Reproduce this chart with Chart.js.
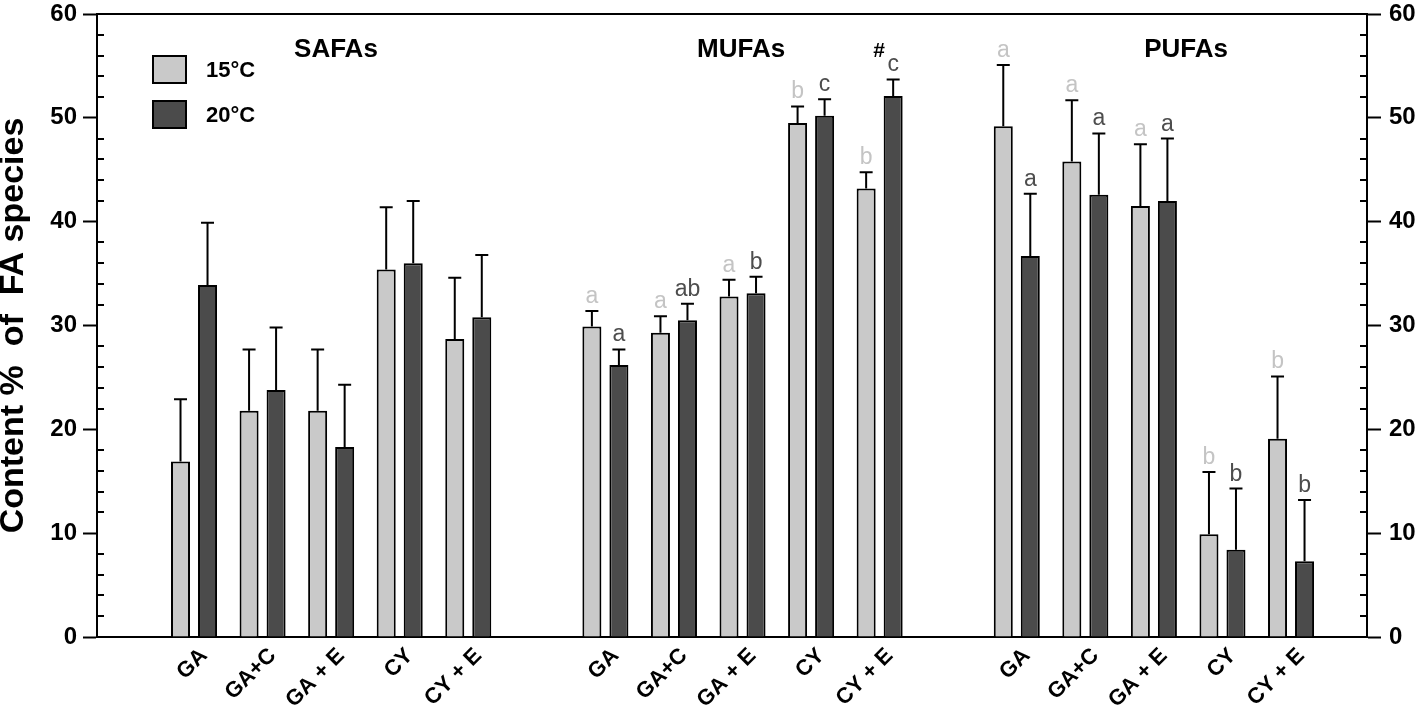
<!DOCTYPE html>
<html>
<head>
<meta charset="utf-8">
<script src="https://cdn.jsdelivr.net/npm/chart.js@4.4.1/dist/chart.umd.min.js"></script>
<style>
  html, body { margin: 0; padding: 0; background: #fff; }
  #wrap { width: 1418px; height: 707px; position: relative; }
</style>
</head>
<body>
<div id="wrap"><canvas id="faChart"></canvas></div>
<script>
const groups = ['SAFAs', 'MUFAs', 'PUFAs'];
const treatments = ['GA', 'GA+C', 'GA + E', 'CY', 'CY + E'];
const seriesNames = ['15°C', '20°C'];

// means and SD, order: SAFAs x5, MUFAs x5, PUFAs x5
const mean15 = [16.9, 21.8, 21.8, 35.4, 28.7, 29.9, 29.3, 32.8, 49.5, 43.2, 49.2, 45.8, 41.5, 9.9, 19.1];
const sd15 = [6.0, 5.9, 5.9, 6.0, 5.9, 1.5, 1.6, 1.6, 1.6, 1.55, 5.9, 5.9, 5.95, 6.0, 6.0];
const mean20 = [33.9, 23.8, 18.3, 36.0, 30.8, 26.2, 30.5, 33.1, 50.2, 52.1, 36.7, 42.6, 42.0, 8.4, 7.3];
const sd20 = [6.0, 6.0, 6.0, 6.0, 6.0, 1.5, 1.6, 1.6, 1.6, 1.6, 6.0, 5.9, 6.0, 5.9, 5.9];

const letters15 = ['', '', '', '', '', 'a', 'a', 'a', 'b', 'b', 'a', 'a', 'a', 'b', 'b'];
const letters20 = ['', '', '', '', '', 'a', 'ab', 'b', 'c', 'c', 'a', 'a', 'a', 'b', 'b'];
const marks20 = ['', '', '', '', '', '', '', '', '', '#', '', '', '', '', ''];

const yMax = 60;
const yStep = 10;
const yMinorStep = 2;

const FONT = "'Liberation Sans', Arial, sans-serif";

// one empty slot between the groups
const positions = [];
const xLabels = [];
groups.forEach((g, gi) => {
  treatments.forEach((t, ti) => {
    positions.push(gi * (treatments.length + 1) + ti);
    xLabels.push(t);
  });
});
const toPoints = (vals) => vals.map((v, i) => ({ x: positions[i], y: v }));

const decor = {
  id: 'decor',
  afterDatasetsDraw(chart) {
    const ctx = chart.ctx;
    const ys = chart.scales.y;
    ctx.save();
    chart.data.datasets.forEach((ds, di) => {
      const meta = chart.getDatasetMeta(di);
      meta.data.forEach((bar, i) => {
        const capY = ys.getPixelForValue(ds.data[i].y + ds.errors[i]);
        // error bar, upper half only
        ctx.strokeStyle = '#000';
        ctx.lineWidth = 2;
        ctx.beginPath();
        ctx.moveTo(bar.x, bar.y);
        ctx.lineTo(bar.x, capY);
        ctx.moveTo(bar.x - 6.5, capY);
        ctx.lineTo(bar.x + 6.5, capY);
        ctx.stroke();
        // significance letters
        ctx.textAlign = 'center';
        ctx.textBaseline = 'alphabetic';
        if (ds.letters[i]) {
          ctx.font = '23px ' + FONT;
          ctx.fillStyle = ds.letterColor;
          ctx.fillText(ds.letters[i], bar.x, capY - 8);
        }
        if (ds.marks && ds.marks[i]) {
          ctx.font = 'bold 21px ' + FONT;
          ctx.fillStyle = '#000';
          ctx.fillText(ds.marks[i], bar.x - 14, capY - 22);
        }
      });
    });
    ctx.restore();
  },
  afterDraw(chart) {
    const ctx = chart.ctx;
    const area = chart.chartArea;
    const ys = chart.scales.y;
    const xs = chart.scales.x;
    ctx.save();
    // minor ticks pointing inwards
    ctx.strokeStyle = '#000';
    ctx.lineWidth = 2;
    ctx.beginPath();
    for (let v = yMinorStep; v < yMax; v += yMinorStep) {
      if (v % yStep === 0) continue;
      const py = Math.round(ys.getPixelForValue(v));
      ctx.moveTo(area.left, py);
      ctx.lineTo(area.left + 7, py);
      ctx.moveTo(area.right, py);
      ctx.lineTo(area.right - 7, py);
    }
    ctx.stroke();

    // group titles
    const titleAt = [2.07, 7.98, 14.47];
    ctx.font = 'bold 26px ' + FONT;
    ctx.fillStyle = '#000';
    ctx.textAlign = 'center';
    ctx.textBaseline = 'middle';
    groups.forEach((g, gi) => ctx.fillText(g, xs.getPixelForValue(titleAt[gi]), area.top + 36));

    // legend
    chart.data.datasets.forEach((ds, di) => {
      const bx = area.left + 56;
      const by = area.top + 42 + di * 45;
      ctx.fillStyle = ds.backgroundColor;
      ctx.fillRect(bx, by, 33, 27);
      ctx.lineWidth = 2;
      ctx.strokeStyle = '#000';
      ctx.strokeRect(bx, by, 33, 27);
      ctx.font = 'bold 22px ' + FONT;
      ctx.fillStyle = '#000';
      ctx.textAlign = 'left';
      ctx.fillText(ds.label, bx + 53, by + 15);
    });
    ctx.restore();
  }
};

const yTickFont = { family: FONT, size: 24, weight: 'bold' };
const yAxis = (pos, width, pad) => ({
  type: 'linear',
  position: pos,
  min: 0,
  max: yMax,
  ticks: { stepSize: yStep, color: '#000', font: yTickFont, padding: pad },
  grid: { drawOnChartArea: false, drawTicks: true, tickLength: 14, tickWidth: 2, tickColor: '#000' },
  border: { display: true, color: '#000', width: 2 },
  afterFit: (scale) => {
    scale.width = width;
    scale.paddingTop = 0;
    scale.paddingBottom = 0;
  }
});

const leftAxis = yAxis('left', 97, 6);
leftAxis.title = {
  display: true,
  text: 'Content %  of  FA species',
  color: '#000',
  font: { family: FONT, size: 34, weight: 'bold', lineHeight: 0.8 },
  padding: { top: 0, bottom: 0 }
};

const xFrame = (pos, height) => ({
  type: 'linear',
  position: pos,
  offset: false,
  min: -1.415,
  max: 17.108,
  grid: { display: false, drawTicks: false },
  border: { display: true, color: '#000', width: 2 },
  afterFit: (scale) => {
    scale.height = height;
    scale.paddingLeft = 0;
    scale.paddingRight = 0;
  }
});

const xAxis = xFrame('bottom', 70);
xAxis.afterBuildTicks = (scale) => { scale.ticks = positions.map(p => ({ value: p })); };
xAxis.ticks = {
  autoSkip: false,
  minRotation: 45,
  maxRotation: 45,
  padding: 6,
  labelOffset: 10,
  color: '#000',
  font: { family: FONT, size: 22, weight: 'bold' },
  callback: (v, i) => xLabels[i]
};

const topAxis = xFrame('top', 14);
topAxis.ticks = { display: false };

new Chart(document.getElementById('faChart'), {
  type: 'bar',
  data: {
    datasets: [
      {
        label: seriesNames[0],
        data: toPoints(mean15),
        errors: sd15,
        letters: letters15,
        letterColor: '#c4c4c4',
        backgroundColor: '#c9c9c9',
        borderColor: '#000',
        borderWidth: 2,
        categoryPercentage: 0.788,
        barPercentage: 0.704
      },
      {
        label: seriesNames[1],
        data: toPoints(mean20),
        errors: sd20,
        letters: letters20,
        marks: marks20,
        letterColor: '#4d4d4d',
        backgroundColor: '#4b4b4b',
        borderColor: '#000',
        borderWidth: 2,
        categoryPercentage: 0.788,
        barPercentage: 0.704
      }
    ]
  },
  options: {
    responsive: true,
    maintainAspectRatio: false,
    animation: false,
    layout: { padding: 0 },
    plugins: { legend: { display: false }, tooltip: { enabled: false } },
    scales: {
      x: xAxis,
      xTop: topAxis,
      y: leftAxis,
      y2: yAxis('right', 51, 8)
    }
  },
  plugins: [decor]
});
</script>
</body>
</html>
